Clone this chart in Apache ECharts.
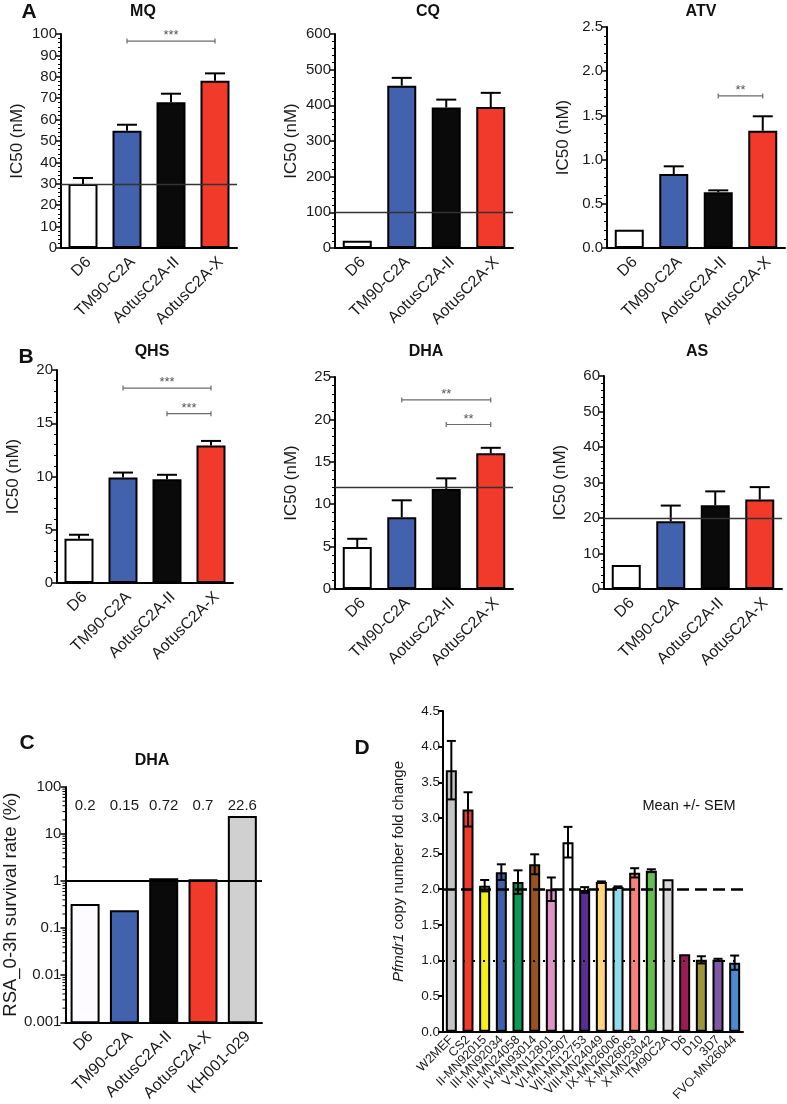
<!DOCTYPE html>
<html><head><meta charset="utf-8">
<script src="https://cdn.jsdelivr.net/npm/echarts@6/dist/echarts.min.js"></script>
<style>html,body{margin:0;padding:0;background:#fff}#c{width:787px;height:1104px}</style>
</head><body><div id="c"></div><script>
// ---------- data ----------
const strains = ['D6', 'TM90-C2A', 'AotusC2A-II', 'AotusC2A-X'];
const strainColors = ['#ffffff', '#4262ad', '#0a0a0a', '#f23a2a'];

const mqIC50 = [29.9, 54.8, 68.1, 78.2];
const mqSEM = [2.8, 2.8, 4.0, 3.4];
const mqRef = 30;
const mqBrackets = [[1, 3, 96.7, '***']];

const cqIC50 = [20.6, 455, 394, 395];
const cqSEM = [0, 22, 22, 40];
const cqRef = 100;
const cqBrackets = [];

const atvIC50 = [0.207, 0.837, 0.63, 1.327];
const atvSEM = [0, 0.087, 0.022, 0.163];
const atvRef = null;
const atvBrackets = [[2, 3, 1.72, '**']];

const qhsIC50 = [4.16, 9.9, 9.75, 12.9];
const qhsSEM = [0.37, 0.47, 0.41, 0.44];
const qhsRef = null;
const qhsBrackets = [[1, 3, 18.3, '***'], [2, 3, 15.9, '***']];

const dhaIC50 = [4.94, 8.46, 11.8, 16.0];
const dhaSEM = [0.98, 2.0, 1.25, 0.65];
const dhaRef = 12;
const dhaBrackets = [[1, 3, 22.3, '**'], [2, 3, 19.4, '**']];

const asIC50 = [6.75, 19.1, 23.6, 25.2];
const asSEM = [0, 4.4, 3.9, 3.5];
const asRef = 20;
const asBrackets = [];

const cStrains = ['D6', 'TM90-C2A', 'AotusC2A-II', 'AotusC2A-X', 'KH001-029'];
const cSurvival = [0.31, 0.23, 1.1, 1.05, 23];
const cLabels = ['0.2', '0.15', '0.72', '0.7', '22.6'];
const cColors = ['#fdfbff', '#4262ad', '#0a0a0a', '#f23a2a', '#d0d0d0'];
const cRef = 1;
const cMin = 0.001, cMax = 100;

const dStrains = ['W2MEF', 'CS2', 'II-MN92015', 'III-MN92034', 'III-MN24058', 'IV-MN93014', 'V-MN12801', 'VI-MN12907', 'VII-MN12753', 'VIII-MN24049', 'IX-MN26006', 'X-MN26063', 'X-MN23042', 'TM90C2A', 'D6', 'D10', '3D7', 'FVO-MN26044'];
const dFold = [3.67, 3.12, 2.05, 2.24, 2.10, 2.35, 2.00, 2.66, 1.99, 2.10, 2.03, 2.23, 2.26, 2.14, 1.09, 1.01, 1.01, 0.97];
const dSEM = [0.41, 0.24, 0.08, 0.11, 0.165, 0.14, 0.165, 0.215, 0.04, 0.01, 0.01, 0.065, 0.02, 0, 0, 0.05, 0.015, 0.1];
const dColors = ['#c4c4c4', '#f23a2a', '#f7ee1e', '#3f5fad', '#0a9a58', '#995222', '#de92c6', '#ffffff', '#5a2d91', '#fdd67f', '#8fdcec', '#f7807a', '#62c04c', '#d9d9d9', '#9a1c52', '#9c973a', '#7e59a8', '#4a8cd2'];
const dDashedRef = 2, dDottedRef = 1;

// ---------- layout / style ----------
const FONT = 'Liberation Sans, Arial, Helvetica, sans-serif';
const TXT = '#1a1a1a';

const panels = [
  { title: 'MQ', mean: mqIC50, sem: mqSEM, max: 100, interval: 10, dec: 0, ref: mqRef, br: mqBrackets, grid: { left: 61, top: 34, width: 176, height: 214 } },
  { title: 'CQ', mean: cqIC50, sem: cqSEM, max: 600, interval: 100, dec: 0, ref: cqRef, br: cqBrackets, grid: { left: 335, top: 34, width: 178, height: 214 } },
  { title: 'ATV', mean: atvIC50, sem: atvSEM, max: 2.5, interval: 0.5, dec: 1, ref: atvRef, br: atvBrackets, grid: { left: 607, top: 27, width: 178, height: 221 } },
  { title: 'QHS', mean: qhsIC50, sem: qhsSEM, max: 20, interval: 5, dec: 0, ref: qhsRef, br: qhsBrackets, grid: { left: 57, top: 370, width: 176, height: 213 } },
  { title: 'DHA', mean: dhaIC50, sem: dhaSEM, max: 25, interval: 5, dec: 0, ref: dhaRef, br: dhaBrackets, grid: { left: 335, top: 377, width: 178, height: 212 } },
  { title: 'AS', mean: asIC50, sem: asSEM, max: 60, interval: 10, dec: 0, ref: asRef, br: asBrackets, grid: { left: 604, top: 376, width: 178, height: 213 } }
];

function errRender(capHalf, twoSided) {
  return function (params, api) {
    const x = api.value(0), m = api.value(1), s = api.value(2);
    if (!s) return;
    const top = api.coord([x, m + s]);
    const bot = api.coord([x, twoSided ? m - s : m]);
    const st = { stroke: '#000', lineWidth: 2 };
    const ch = [
      { type: 'line', shape: { x1: top[0], y1: top[1], x2: bot[0], y2: bot[1] }, style: st },
      { type: 'line', shape: { x1: top[0] - capHalf, y1: top[1], x2: top[0] + capHalf, y2: top[1] }, style: st }
    ];
    if (twoSided) ch.push({ type: 'line', shape: { x1: bot[0] - capHalf, y1: bot[1], x2: bot[0] + capHalf, y2: bot[1] }, style: st });
    return { type: 'group', children: ch };
  };
}

function bracketRender(list) {
  return function (params, api) {
    const a = api.coord([api.value(0), api.value(2)]);
    const b = api.coord([api.value(1), api.value(2)]);
    const st = { stroke: '#6a6a6a', lineWidth: 1.2 };
    return {
      type: 'group', children: [
        { type: 'line', shape: { x1: a[0], y1: a[1], x2: b[0], y2: b[1] }, style: st },
        { type: 'line', shape: { x1: a[0], y1: a[1] - 2.5, x2: a[0], y2: a[1] + 2.5 }, style: st },
        { type: 'line', shape: { x1: b[0], y1: b[1] - 2.5, x2: b[0], y2: b[1] + 2.5 }, style: st },
        { type: 'text', style: { text: list[params.dataIndex][3], x: (a[0] + b[0]) / 2, y: a[1] + 1, align: 'center', verticalAlign: 'bottom', fill: '#555', font: '13px ' + FONT } }
      ]
    };
  };
}

const grids = [], xAxes = [], yAxes = [], series = [];
const axisLineStyle = { color: '#000', width: 2 };

panels.forEach((p, i) => {
  grids.push(p.grid);
  xAxes.push({
    type: 'category', gridIndex: i, data: strains,
    axisLine: { lineStyle: axisLineStyle },
    axisTick: { alignWithLabel: true, length: 5, lineStyle: { color: '#000', width: 2 } },
    axisLabel: { rotate: 45, interval: 0, fontSize: 16, color: TXT, fontFamily: FONT, margin: 6, verticalAlign: 'top' }
  });
  yAxes.push({
    type: 'value', gridIndex: i, min: 0, max: p.max, interval: p.interval,
    name: 'IC50 (nM)', nameLocation: 'middle', nameGap: 35,
    nameTextStyle: { fontSize: 17, color: TXT, fontFamily: FONT },
    axisLine: { show: true, lineStyle: axisLineStyle },
    axisTick: { show: true, length: 5, lineStyle: { color: '#000', width: 1.5 } },
    minorTick: { show: true, splitNumber: 5, length: 3, lineStyle: { color: '#000', width: 1 } },
    splitLine: { show: false },
    axisLabel: { fontSize: 15, color: TXT, fontFamily: FONT, margin: 4, formatter: v => v.toFixed(p.dec) }
  });
  const bar = {
    type: 'bar', xAxisIndex: i, yAxisIndex: i, barWidth: 29, silent: true,
    data: p.mean.map((v, k) => ({ value: v, itemStyle: { color: strainColors[k] } })),
    itemStyle: { borderColor: '#000', borderWidth: 2 }
  };
  if (p.ref != null) {
    bar.markLine = { silent: true, symbol: 'none', label: { show: false }, lineStyle: { color: '#333', width: 1.3, type: 'solid' }, data: [{ yAxis: p.ref }] };
  }
  series.push(bar);
  series.push({ type: 'custom', xAxisIndex: i, yAxisIndex: i, silent: true, z: 4, renderItem: errRender(10, false), encode: { x: 0, y: 1 }, data: p.mean.map((v, k) => [k, v, p.sem[k]]) });
  if (p.br.length) {
    series.push({ type: 'custom', xAxisIndex: i, yAxisIndex: i, silent: true, z: 4, renderItem: bracketRender(p.br), encode: { x: 0, y: 2 }, data: p.br.map(b => [b[0], b[1], b[2]]) });
  }
});

// ---------- panel C ----------
const ci = 6;
grids.push({ left: 55, top: 787, width: 207, height: 243 });
xAxes.push({
  type: 'category', gridIndex: ci, data: cStrains,
  axisLine: { lineStyle: axisLineStyle },
  axisTick: { alignWithLabel: true, length: 5, lineStyle: { color: '#000', width: 2 } },
  axisLabel: { rotate: 45, interval: 0, fontSize: 16, color: TXT, fontFamily: FONT, margin: 6, verticalAlign: 'top' }
});
yAxes.push({
  type: 'log', logBase: 10, gridIndex: ci, min: cMin, max: cMax,
  name: 'RSA_0-3h survival rate (%)', nameLocation: 'middle', nameGap: 37,
  nameTextStyle: { fontSize: 18.5, color: TXT, fontFamily: FONT },
  axisLine: { show: true, lineStyle: axisLineStyle },
  axisTick: { show: true, length: 5, lineStyle: { color: '#000', width: 1.5 } },
  minorTick: { show: false },
  splitLine: { show: false },
  axisLabel: { fontSize: 15, color: TXT, fontFamily: FONT, margin: 4, formatter: v => v >= 1 ? String(Math.round(v)) : String(parseFloat(v.toPrecision(1))) }
});
series.push({
  type: 'custom', xAxisIndex: ci, yAxisIndex: ci, silent: true, z: 2, encode: { x: 0, y: 1 },
  data: cSurvival.map((v, k) => [k, v]),
  renderItem: function (params, api) {
    const x = api.value(0), v = api.value(1);
    const top = api.coord([x, v]);
    const base = api.coord([x, cMin]);
    const w = 27;
    return { type: 'rect', shape: { x: top[0] - w / 2, y: top[1], width: w, height: base[1] - top[1] }, style: { fill: cColors[params.dataIndex], stroke: '#000', lineWidth: 2 } };
  }
});
// log minor ticks on C's y axis
const cMinor = [];
for (let e = Math.log10(cMin); e < Math.log10(cMax); e++) for (let m = 2; m <= 9; m++) cMinor.push(m * Math.pow(10, e));
series.push({
  type: 'custom', xAxisIndex: ci, yAxisIndex: ci, silent: true, z: 3, encode: { x: 0, y: 1 },
  data: cMinor.map(v => [0, v]),
  renderItem: function (params, api) {
    const p = api.coord([0, api.value(1)]);
    const x0 = params.coordSys.x;
    return { type: 'line', shape: { x1: x0 - 3, y1: p[1], x2: x0, y2: p[1] }, style: { stroke: '#000', lineWidth: 1 } };
  }
});
// value labels above C bars
series.push({
  type: 'custom', xAxisIndex: ci, yAxisIndex: ci, silent: true, z: 5, encode: { x: 0, y: 1 },
  data: cLabels.map((t, k) => [k, 39]),
  renderItem: function (params, api) {
    const p = api.coord([api.value(0), api.value(1)]);
    return { type: 'text', style: { text: cLabels[params.dataIndex], x: p[0], y: p[1], align: 'center', verticalAlign: 'middle', fill: TXT, font: '15px ' + FONT } };
  },
  markLine: { silent: true, symbol: 'none', label: { show: false }, lineStyle: { color: '#000', width: 2, type: 'solid' }, data: [{ yAxis: cRef }] }
});

// ---------- panel D ----------
const di = 7;
grids.push({ left: 443, top: 711, width: 300, height: 321 });
xAxes.push({
  type: 'category', gridIndex: di, data: dStrains,
  axisLine: { lineStyle: axisLineStyle },
  axisTick: { alignWithLabel: true, length: 4, lineStyle: { color: '#000', width: 2 } },
  axisLabel: { rotate: 45, interval: 0, fontSize: 12.5, color: TXT, fontFamily: FONT, margin: 6 }
});
yAxes.push({
  type: 'value', gridIndex: di, min: 0, max: 4.5, interval: 0.5,
  name: '{i|Pfmdr1} copy number fold change', nameLocation: 'middle', nameGap: 37,
  nameTextStyle: { fontSize: 15, color: TXT, fontFamily: FONT, rich: { i: { fontStyle: 'italic', fontSize: 15, color: TXT, fontFamily: FONT } } },
  axisLine: { show: true, lineStyle: axisLineStyle },
  axisTick: { show: true, length: 5, lineStyle: { color: '#000', width: 2 } },
  splitLine: { show: false },
  axisLabel: { fontSize: 13.5, color: TXT, fontFamily: FONT, margin: 3, formatter: v => v.toFixed(1) }
});
series.push({
  type: 'bar', xAxisIndex: di, yAxisIndex: di, barWidth: 11, silent: true,
  data: dFold.map((v, k) => ({ value: v, itemStyle: { color: dColors[k] } })),
  itemStyle: { borderColor: '#000', borderWidth: 2 },
  markLine: {
    silent: true, symbol: 'none', label: { show: false },
    data: [
      { yAxis: dDashedRef, lineStyle: { color: '#000', width: 2.5, type: [12, 6] } },
      { yAxis: dDottedRef, lineStyle: { color: '#000', width: 2, type: [2, 8] } }
    ]
  }
});
series.push({ type: 'custom', xAxisIndex: di, yAxisIndex: di, silent: true, z: 4, renderItem: errRender(4.5, true), encode: { x: 0, y: 1 }, data: dFold.map((v, k) => [k, v, dSEM[k]]) });

// ---------- texts ----------
function txt(text, x, y, size, bold) {
  return { type: 'text', x: x, y: y, silent: true, style: { text: text, align: 'center', verticalAlign: 'middle', fill: '#111', font: (bold ? 'bold ' : '') + size + 'px ' + FONT } };
}
const graphics = [
  txt('A', 29, 12, 21, true), txt('B', 26, 357, 21, true), txt('C', 27, 743, 21, true), txt('D', 362, 748, 21, true),
  txt('MQ', 143, 12, 16, true), txt('CQ', 428, 12, 16, true), txt('ATV', 701, 12, 16, true),
  txt('QHS', 152, 352, 16, true), txt('DHA', 426, 352, 16, true), txt('AS', 697, 352, 16, true),
  txt('DHA', 152, 761, 16, true),
  txt('Mean +/- SEM', 689, 806, 14.5, false)
];

const chart = echarts.init(document.getElementById('c'), null, { renderer: 'canvas' });
chart.setOption({
  animation: false,
  backgroundColor: '#fff',
  textStyle: { fontFamily: FONT },
  grid: grids, xAxis: xAxes, yAxis: yAxes, series: series,
  graphic: graphics
});
</script></body></html>
